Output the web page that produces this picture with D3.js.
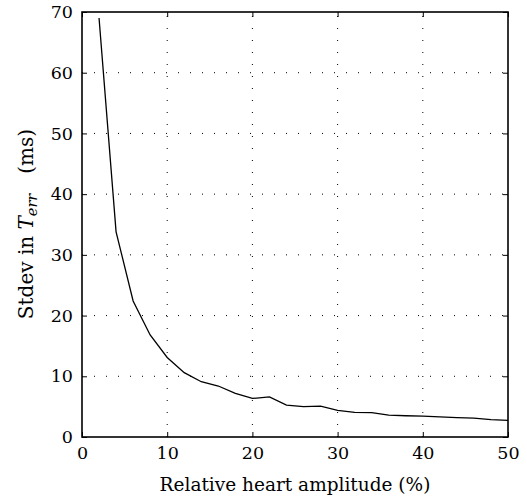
<!DOCTYPE html>
<html>
<head>
<meta charset="utf-8">
<script src="https://cdn.jsdelivr.net/npm/d3@7"></script>
<style>
  body { margin: 0; background: #fff; }
  .grid line { stroke: #000; stroke-width: 1; stroke-dasharray: 1,11; }
  .frame { fill: none; stroke: #000; stroke-width: 1.6; }
</style>
</head>
<body>
<svg id="chart" width="527" height="500"></svg>
<script>
// relative heart amplitude (%) and stdev of timing error (ms)
var amplitude = [2, 4, 6, 8, 10, 12, 14, 16, 18, 20, 22, 24, 26, 28, 30, 32, 34, 36, 38, 40, 42, 44, 46, 48, 50];
var stdev = [69, 33.8, 22.4, 16.8, 13.1, 10.6, 9.1, 8.4, 7.2, 6.35, 6.6, 5.25, 5.0, 5.1, 4.4, 4.05, 4.0, 3.6, 3.5, 3.45, 3.3, 3.2, 3.1, 2.85, 2.75];
var xTicks = [0, 10, 20, 30, 40, 50];
var yTicks = [0, 10, 20, 30, 40, 50, 60, 70];

var serif = "DejaVu Serif, serif";

var margin = {left: 82, right: 19, top: 12, bottom: 63};
var width = 527 - margin.left - margin.right,
    height = 500 - margin.top - margin.bottom;

var svg = d3.select("#chart");
var g = svg.append("g").attr("transform", "translate(" + margin.left + "," + margin.top + ")");

var x = d3.scaleLinear().domain([0, 50]).range([0, width]);
var y = d3.scaleLinear().domain([0, 70]).range([height, 0]);

// dotted grid
var grid = g.append("g").attr("class", "grid");
grid.selectAll(".gx").data(xTicks.slice(1, -1)).enter().append("line")
  .attr("x1", d => x(d)).attr("x2", d => x(d))
  .attr("y1", height).attr("y2", 0);
grid.selectAll(".gy").data(yTicks.slice(1, -1)).enter().append("line")
  .attr("x1", 0).attr("x2", width)
  .attr("y1", d => y(d)).attr("y2", d => y(d));

// axes with inward ticks
var tickLen = 5;
var xAxis = g.append("g").attr("transform", "translate(0," + height + ")")
  .call(d3.axisBottom(x).tickValues(xTicks).tickSizeInner(-tickLen).tickSizeOuter(0).tickPadding(10));
var xTop = g.append("g")
  .call(d3.axisTop(x).tickValues(xTicks).tickSizeInner(-tickLen).tickSizeOuter(0).tickFormat(""));
var yAxis = g.append("g")
  .call(d3.axisLeft(y).tickValues(yTicks).tickSizeInner(-tickLen).tickSizeOuter(0).tickPadding(9));
var yRight = g.append("g").attr("transform", "translate(" + width + ",0)")
  .call(d3.axisRight(y).tickValues(yTicks).tickSizeInner(-tickLen).tickSizeOuter(0).tickFormat(""));

[xAxis, xTop, yAxis, yRight].forEach(function(a) {
  a.attr("font-family", serif).attr("font-size", 17.5);
  a.select(".domain").remove();
  a.selectAll("line").attr("stroke", "#000");
  a.selectAll("text").attr("fill", "#000");
});

// data line
var line = d3.line().x((d, i) => x(amplitude[i])).y(d => y(d));
g.append("path").datum(stdev)
  .attr("d", line)
  .attr("fill", "none")
  .attr("stroke", "#000")
  .attr("stroke-width", 1.3);

// frame
g.append("rect").attr("class", "frame")
  .attr("x", 0).attr("y", 0).attr("width", width).attr("height", height);

// labels
svg.append("text")
  .attr("x", margin.left + width / 2).attr("y", 491)
  .attr("text-anchor", "middle")
  .attr("font-family", serif)
  .attr("font-size", 18.5)
  .text("Relative heart amplitude (%)");

var yl = svg.append("text")
  .attr("transform", "translate(33,224) rotate(-90)")
  .attr("text-anchor", "middle")
  .attr("font-family", serif)
  .attr("font-size", 20);
yl.append("tspan").text("Stdev in ");
yl.append("tspan").attr("font-style", "italic").text("T");
yl.append("tspan").attr("font-style", "italic").attr("font-size", 14.5).attr("dy", 4).text("err");
yl.append("tspan").attr("dy", -4).text("\u2003(ms)");
</script>
</body>
</html>
